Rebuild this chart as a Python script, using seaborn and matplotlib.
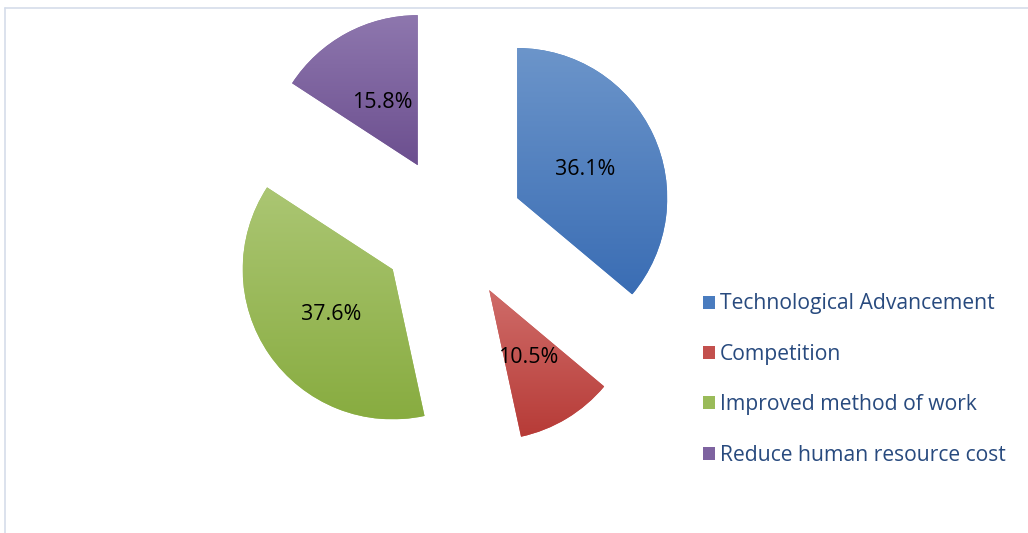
import numpy as np
import matplotlib
matplotlib.use("Agg")
import matplotlib.pyplot as plt
import seaborn as sns
from matplotlib.colors import LinearSegmentedColormap
from matplotlib.patches import Patch
from matplotlib.lines import Line2D

# Survey shares (percent), clockwise from 12 o'clock
categories = ["Technological Advancement", "Competition",
              "Improved method of work", "Reduce human resource cost"]
shares = [36.1, 10.5, 37.6, 15.8]

sns.set_style("white")
plt.rcParams["font.family"] = ["Open Sans", "DejaVu Sans"]

# Vertical gradient per slice: light at the top, darker at the bottom
top_colors = ["#6C95CA", "#CF6C69", "#ABC673", "#8E77AE"]
bottom_colors = ["#3A6DB4", "#B73B37", "#88AC40", "#6C4F8F"]
legend_colors = sns.color_palette(["#4A7CBF", "#C3504D", "#9ABB59", "#7E63A0"])

W, H, DPI = 1028, 533, 100
fig = plt.figure(figsize=(W / DPI, H / DPI), dpi=DPI)
ax = fig.add_axes([0, 0, 1, 1])

wedges, texts, autotexts = ax.pie(
    shares, startangle=90, counterclock=False, explode=[0.48] * len(shares),
    radius=1.0, autopct="%.1f%%", pctdistance=0.5,
    wedgeprops=dict(linewidth=0, edgecolor="none"),
    textprops=dict(color="black", fontsize=15.4),
)

grad = np.linspace(0, 1, 256).reshape(-1, 1)
for w, c0, c1, lc in zip(wedges, top_colors, bottom_colors, legend_colors):
    w.set_facecolor(lc)
    ext = w.get_path().get_extents()
    cmap = LinearSegmentedColormap.from_list("g", [c0, c1])
    im = ax.imshow(grad, extent=[ext.x0, ext.x1, ext.y0, ext.y1], origin="upper",
                   cmap=cmap, aspect="auto", interpolation="bilinear", zorder=w.get_zorder() + 0.1)
    im.set_clip_path(w)
for t in autotexts:
    t.set_zorder(5)
    x, y = t.get_position()
    t.set_position((x, y - 0.02))

# pixel-based data scale: pie radius of 150 px centred at (452, 228.5) from top-left
R_PX, CX, CY = 150.0, 452.0, 228.5
ax.set_xlim(-CX / R_PX, (W - CX) / R_PX)
ax.set_ylim(-(H - CY) / R_PX, CY / R_PX)
ax.set_aspect("equal")
ax.axis("off")

handles = [Patch(facecolor=c, edgecolor="none") for c in legend_colors]
fig.legend(handles, categories, loc="upper left",
           bbox_to_anchor=(703 / W, 1 - 293.5 / H), bbox_transform=fig.transFigure,
           frameon=False, fontsize=15.2, labelcolor="#284A7E",
           handlelength=0.57, handleheight=0.57, handletextpad=0.22,
           labelspacing=1.39, borderpad=0, borderaxespad=0)

# thin chart-area border on the top and left
border = "#D5DDEA"
fig.add_artist(Line2D([4.5 / W, 4.5 / W], [0, 1 - 7.5 / H], color=border, lw=1.2,
                      transform=fig.transFigure))
fig.add_artist(Line2D([4.5 / W, 1], [1 - 7.5 / H, 1 - 7.5 / H], color=border, lw=1.2,
                      transform=fig.transFigure))

fig.savefig("out.png", dpi=DPI, facecolor="white")
